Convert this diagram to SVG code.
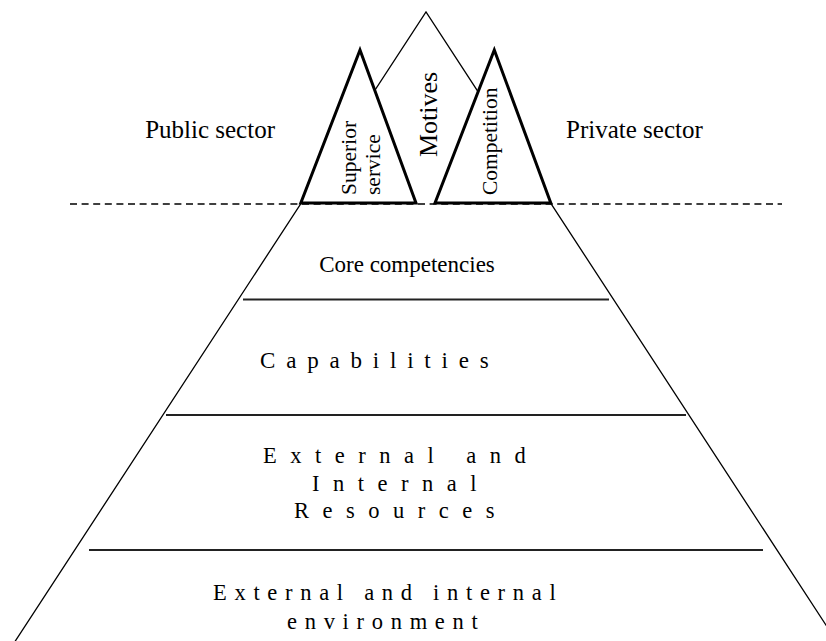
<svg xmlns="http://www.w3.org/2000/svg" width="826" height="641" viewBox="0 0 826 641">
  <style>
    .txt { font-family: "Liberation Serif", "Times New Roman", serif; fill: #000; }
    .thin { fill: none; stroke: #000; stroke-width: 1.3; }
    .tier { fill: none; stroke: #222; stroke-width: 2; }
    .peak { fill: #fff; stroke: #000; stroke-width: 3; stroke-linejoin: miter; }
    .divider { fill: none; stroke: #000; stroke-width: 1.4; stroke-dasharray: 7 4.6; }
  </style>
  <rect width="826" height="641" fill="#fff"/>

  <!-- overall pyramid: one large triangle whose tip forms the Motives peak -->
  <g id="pyramid">
    <polyline class="thin" points="-1,666 426,12 837,642"/>
  </g>

  <!-- waterline separating the visible peaks from the base -->
  <g id="connectors">
    <line class="divider" x1="70" y1="204" x2="782" y2="204"/>
  </g>

  <!-- tier separators -->
  <g id="tier-lines">
    <line class="tier" x1="243" y1="299.5" x2="609" y2="299.5"/>
    <line class="tier" x1="166" y1="415" x2="686" y2="415"/>
    <line class="tier" x1="89" y1="550" x2="763" y2="550"/>
  </g>

  <g id="superior-service">
    <polygon class="peak" points="360,50 416,203 300.8,203"/>
    <text class="txt" font-size="21.5" transform="translate(356,195) rotate(-90)">Superior</text>
    <text class="txt" font-size="21.5" transform="translate(380,195) rotate(-90)">service</text>
  </g>

  <g id="competition">
    <polygon class="peak" points="494.3,50 550.8,203 435,203"/>
    <text class="txt" font-size="21.5" transform="translate(497,195) rotate(-90)">Competition</text>
  </g>

  <g id="motives">
    <text class="txt" font-size="26" transform="translate(437,157) rotate(-90)">Motives</text>
  </g>

  <g id="public-sector">
    <text class="txt" font-size="25" x="275" y="138" text-anchor="end">Public sector</text>
  </g>

  <g id="private-sector">
    <text class="txt" font-size="25" x="566" y="138">Private sector</text>
  </g>

  <g id="core-competencies">
    <text class="txt" font-size="23" x="407" y="272" text-anchor="middle">Core competencies</text>
  </g>

  <g id="capabilities">
    <text class="txt" font-size="23" x="260" y="368" letter-spacing="10.8">Capabilities</text>
  </g>

  <g id="resources">
    <text class="txt" font-size="22.5" letter-spacing="13.5">
      <tspan x="263" y="463">External and</tspan>
      <tspan x="312" y="491">Internal</tspan>
      <tspan x="294" y="518">Resources</tspan>
    </text>
  </g>

  <g id="environment">
    <text class="txt" font-size="22.5" letter-spacing="7.7">
      <tspan x="213" y="600">External and internal</tspan>
      <tspan x="287" y="629">environment</tspan>
    </text>
  </g>
</svg>
